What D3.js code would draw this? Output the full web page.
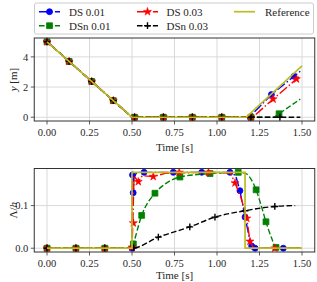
<!DOCTYPE html>
<html><head><meta charset="utf-8">
<script src="https://cdn.jsdelivr.net/npm/d3@7"></script>
<style>
body{margin:0;background:#fff}
svg{display:block}
svg text{font-family:"Liberation Serif","Times New Roman",Times,"DejaVu Serif",serif !important}
</style>
</head><body>
<svg id="c" width="317" height="282"></svg>
<script>
// ---------- data ----------
const seriesNames = ["DS 0.01", "DSn 0.01", "DS 0.03", "DSn 0.03", "Reference"];
const xTickValues = [0, 0.25, 0.5, 0.75, 1.0, 1.25, 1.5];
const xTickLabels = ["0.00", "0.25", "0.50", "0.75", "1.00", "1.25", "1.50"];
const topYTickValues = [0, 2, 4];
const topYTickLabels = ["0", "2", "4"];
const botYTickValues = [0, 0.1];
const botYTickLabels = ["0.0", "0.1"];

// top panel: y [m]
const ds001TopT = [0, 0.5, 1.19, 1.32, 1.49];
const ds001TopY = [5, 0, 0, 1.5, 3.05];
const ds001TopMarkT = [0, 0.13, 0.263, 0.39, 0.515, 0.685, 0.855, 1.028, 1.195, 1.32, 1.453];
const ds001TopMarkY = [5, 3.7, 2.37, 1.1, 0, 0, 0, 0, 0, 1.5, 2.71];

const dsn001TopT = [0, 0.5, 1.335, 1.49];
const dsn001TopY = [5, 0, 0, 1.2];
const dsn001TopMarkT = [0, 0.13, 0.263, 0.39, 0.515, 0.685, 0.855, 1.028, 1.2, 1.365];
const dsn001TopMarkY = [5, 3.7, 2.37, 1.1, 0, 0, 0, 0, 0, 0.23];

const ds003TopT = [0, 0.5, 1.21, 1.33, 1.49];
const ds003TopY = [5, 0, 0, 1.2, 2.75];
const ds003TopMarkT = [0, 0.13, 0.263, 0.39, 0.515, 0.685, 0.855, 1.028, 1.2, 1.33, 1.467];
const ds003TopMarkY = [5, 3.7, 2.37, 1.1, 0, 0, 0, 0, 0, 1.2, 2.53];

const dsn003TopT = [0, 0.5, 1.49];
const dsn003TopY = [5, 0, 0];
const dsn003TopMarkT = [0, 0.13, 0.263, 0.39, 0.515, 0.685, 0.855, 1.028, 1.2, 1.37];
const dsn003TopMarkY = [5, 3.7, 2.37, 1.1, 0, 0, 0, 0, 0, 0];

const refTopT = [0, 0.5, 1.172, 1.5];
const refTopY = [5, 0, 0, 3.4];

// bottom panel: Lambda/h
const ds001BotT = [0, 0.5, 0.502, 0.508, 0.512, 0.53, 0.57, 1.08, 1.11, 1.135, 1.165, 1.19, 1.21, 1.23, 1.49];
const ds001BotY = [0, 0, 0.176, 0.13, 0.168, 0.178, 0.178, 0.178, 0.17, 0.135, 0.073, 0.025, 0.005, 0, 0];
const ds001BotMarkT = [0, 0.17, 0.34, 0.5, 0.503, 0.507, 0.571, 0.743, 0.91, 1.076, 1.135, 1.165, 1.204, 1.224, 1.39];
const ds001BotMarkY = [0, 0, 0, 0, 0.172, 0.13, 0.178, 0.178, 0.178, 0.178, 0.135, 0.073, 0.005, 0, 0];

const dsn001BotT = [0, 0.5, 0.508, 0.557, 0.635, 0.7, 0.782, 0.959, 1.125, 1.17, 1.2, 1.23, 1.26, 1.288, 1.32, 1.347, 1.49];
const dsn001BotY = [0, 0, 0.01, 0.077, 0.129, 0.152, 0.167, 0.175, 0.178, 0.175, 0.162, 0.137, 0.1, 0.062, 0.025, 0.002, 0];
const dsn001BotMarkT = [0, 0.17, 0.34, 0.508, 0.557, 0.635, 0.782, 0.959, 1.125, 1.23, 1.288, 1.347];
const dsn001BotMarkY = [0, 0, 0, 0.01, 0.077, 0.129, 0.167, 0.175, 0.178, 0.137, 0.062, 0.002];

const ds003BotT = [0, 0.5, 0.505, 0.512, 0.537, 0.56, 0.625, 0.7, 0.95, 1.08, 1.106, 1.14, 1.175, 1.194, 1.215, 1.49];
const ds003BotY = [0, 0, 0.06, 0.17, 0.155, 0.17, 0.168, 0.176, 0.178, 0.176, 0.153, 0.12, 0.07, 0.016, 0, 0];
const ds003BotMarkT = [0, 0.17, 0.34, 0.5, 0.508, 0.537, 0.625, 0.778, 0.95, 1.106, 1.175, 1.194, 1.34];
const ds003BotMarkY = [0, 0, 0, 0.002, 0.059, 0.156, 0.168, 0.178, 0.178, 0.153, 0.07, 0.016, 0];

const dsn003BotT = [0, 0.5, 0.655, 0.84, 0.988, 1.165, 1.34, 1.46];
const dsn003BotY = [0, 0, 0.026, 0.05, 0.073, 0.088, 0.098, 0.1];
const dsn003BotMarkT = [0, 0.17, 0.34, 0.51, 0.655, 0.84, 0.988, 1.165, 1.34];
const dsn003BotMarkY = [0, 0, 0, 0.001, 0.026, 0.05, 0.073, 0.088, 0.098];

const refBotT = [0, 0.5, 0.5, 1.165, 1.165, 1.5];
const refBotY = [0, 0, 0.178, 0.178, 0, 0];

// ---------- styles ----------
const colors = ["#0000ff", "#008000", "#ff0000", "#000000", "#bcbd22"];
const markerKinds = ["circle", "square", "star", "plus", null];
const dashes = ["9.6,2.4,1.5,2.4", "5.55,2.4", "9.6,2.4,1.5,2.4", "5.55,2.4", null];

const zip = (a, b) => a.map((v, i) => [v, b[i]]);
const topSeries = [
  {line: zip(ds001TopT, ds001TopY), marks: zip(ds001TopMarkT, ds001TopMarkY)},
  {line: zip(dsn001TopT, dsn001TopY), marks: zip(dsn001TopMarkT, dsn001TopMarkY)},
  {line: zip(ds003TopT, ds003TopY), marks: zip(ds003TopMarkT, ds003TopMarkY)},
  {line: zip(dsn003TopT, dsn003TopY), marks: zip(dsn003TopMarkT, dsn003TopMarkY)},
  {line: zip(refTopT, refTopY), marks: []}
];
const botSeries = [
  {line: zip(ds001BotT, ds001BotY), marks: zip(ds001BotMarkT, ds001BotMarkY), curve: d3.curveLinear},
  {line: zip(dsn001BotT, dsn001BotY), marks: zip(dsn001BotMarkT, dsn001BotMarkY), curve: d3.curveMonotoneX},
  {line: zip(ds003BotT, ds003BotY), marks: zip(ds003BotMarkT, ds003BotMarkY), curve: d3.curveLinear},
  {line: zip(dsn003BotT, dsn003BotY), marks: zip(dsn003BotMarkT, dsn003BotMarkY), curve: d3.curveMonotoneX},
  {line: zip(refBotT, refBotY), marks: [], curve: d3.curveLinear}
];

const TXT = "#262626";
const svg = d3.select("#c");
const x = d3.scaleLinear().domain([-0.075, 1.575]).range([34.25, 314.75]);
const yTop = d3.scaleLinear().domain([-0.25, 5.25]).range([121, 38]);
const yBot = d3.scaleLinear().domain([-0.0089, 0.187]).range([252, 168.5]);

function drawMarker(g, kind, color, px, py) {
  if (kind === "circle") {
    g.append("path").attr("d", d3.symbol(d3.symbolCircle, 28)()).attr("transform", `translate(${px},${py})`)
      .attr("fill", color).attr("stroke", color).attr("stroke-width", 0.8);
  } else if (kind === "square") {
    g.append("path").attr("d", d3.symbol(d3.symbolSquare, 34)()).attr("transform", `translate(${px},${py})`)
      .attr("fill", color).attr("stroke", color).attr("stroke-width", 0.8);
  } else if (kind === "star") {
    g.append("path").attr("d", d3.symbol(d3.symbolStar, 20)()).attr("transform", `translate(${px},${py})`)
      .attr("fill", color).attr("stroke", color).attr("stroke-width", 0.6);
  } else if (kind === "plus") {
    const s = 3.4;
    g.append("path").attr("d", `M${px - s},${py}H${px + s}M${px},${py - s}V${py + s}`)
      .attr("stroke", color).attr("stroke-width", 1.4).attr("fill", "none");
  }
}

function addText(g) {
  return g.append("text").attr("fill", TXT);
}

function drawPanel(yScale, yTickVals, yTickLabs, series, yLabelNode, xLabelY) {
  const [x0, x1] = x.range();
  const [yb, yt] = yScale.range();
  const g = svg.append("g");
  g.selectAll(null).data(xTickValues).enter().append("line")
    .attr("x1", d => x(d)).attr("x2", d => x(d)).attr("y1", yt).attr("y2", yb)
    .attr("stroke", "#d9d9d9").attr("stroke-width", 1);
  g.selectAll(null).data(yTickVals).enter().append("line")
    .attr("y1", d => yScale(d)).attr("y2", d => yScale(d)).attr("x1", x0).attr("x2", x1)
    .attr("stroke", "#d9d9d9").attr("stroke-width", 1);
  series.forEach((s, i) => {
    const line = d3.line().x(d => x(d[0])).y(d => yScale(d[1])).curve(s.curve || d3.curveLinear);
    const p = g.append("path").attr("d", line(s.line)).attr("fill", "none")
      .attr("stroke", colors[i]).attr("stroke-width", i === 4 ? 1.7 : 1.4);
    if (dashes[i]) p.attr("stroke-dasharray", dashes[i]);
    s.marks.forEach(m => drawMarker(g, markerKinds[i], colors[i], x(m[0]), yScale(m[1])));
  });
  g.append("rect").attr("x", x0).attr("y", yt).attr("width", x1 - x0).attr("height", yb - yt)
    .attr("fill", "none").attr("stroke", "#333").attr("stroke-width", 1);
  g.selectAll(null).data(xTickValues).enter().append("line")
    .attr("x1", d => x(d)).attr("x2", d => x(d)).attr("y1", yb).attr("y2", yb + 3.5)
    .attr("stroke", "#333").attr("stroke-width", 0.8);
  xTickValues.forEach((d, i) => {
    addText(g).attr("x", x(d)).attr("y", yb + 14.5).attr("text-anchor", "middle")
      .attr("font-size", "10.5px").text(xTickLabels[i]);
  });
  g.selectAll(null).data(yTickVals).enter().append("line")
    .attr("x1", x0).attr("x2", x0 - 3.5).attr("y1", d => yScale(d)).attr("y2", d => yScale(d))
    .attr("stroke", "#333").attr("stroke-width", 0.8);
  yTickVals.forEach((d, i) => {
    addText(g).attr("x", x0 - 6).attr("y", yScale(d)).attr("dy", "0.35em").attr("text-anchor", "end")
      .attr("font-size", "10.5px").text(yTickLabs[i]);
  });
  addText(g).attr("x", (x0 + x1) / 2).attr("y", xLabelY).attr("text-anchor", "middle")
    .attr("font-size", "11px").text("Time [s]");
  const yl = addText(g).attr("transform", `translate(13,${(yb + yt) / 2}) rotate(-90)`)
    .attr("text-anchor", "middle").attr("dy", "0.35em").attr("font-size", "11px");
  yLabelNode(yl);
}

drawPanel(yTop, topYTickValues, topYTickLabels, topSeries, t => {
  t.append("tspan").attr("font-style", "italic").text("y");
  t.append("tspan").text(" [m]");
}, 150.5);
drawPanel(yBot, botYTickValues, botYTickLabels, botSeries, t => {
  t.append("tspan").text("Λ/");
  t.append("tspan").attr("font-style", "italic").text("h");
}, 279);

const lg = svg.append("g");
lg.append("rect").attr("x", 34.5).attr("y", 3).attr("width", 279).attr("height", 31).attr("rx", 2)
  .attr("fill", "#fff").attr("fill-opacity", 0.9).attr("stroke", "#cccccc").attr("stroke-width", 1);
const legCols = [[0, 1], [2, 3], [4]];
const handleX = [39, 137, 234];
const textX = [69, 166.5, 265];
const rowY = [11.7, 25.7];
legCols.forEach((col, ci) => {
  col.forEach((si, ri) => {
    const hy = rowY[ri];
    const hx = handleX[ci];
    const p = lg.append("path").attr("d", `M${hx},${hy}H${hx + 21}`).attr("stroke", colors[si])
      .attr("stroke-width", si === 4 ? 1.7 : 1.4).attr("fill", "none");
    if (dashes[si]) p.attr("stroke-dasharray", dashes[si]);
    if (markerKinds[si]) drawMarker(lg, markerKinds[si], colors[si], hx + 10.5, hy);
    addText(lg).attr("x", textX[ci]).attr("y", hy).attr("dy", "0.35em")
      .attr("font-size", "11px").text(seriesNames[si]);
  });
});
</script>
</body></html>
